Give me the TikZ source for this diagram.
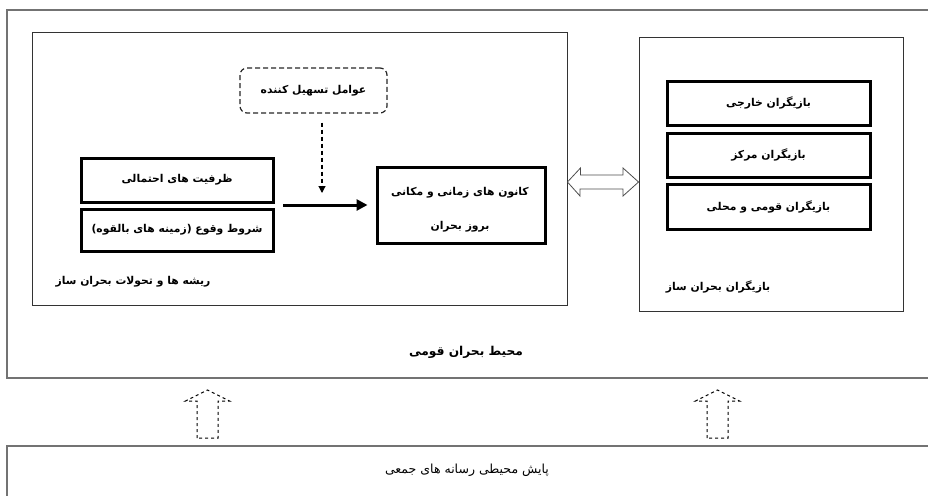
\documentclass[tikz,border=0pt]{standalone}
\usepackage{fontspec}
\newfontfamily\fafont[Script=Arabic]{DejaVu Sans}
\TeXXeTstate=1
\usetikzlibrary{arrows.meta}
\newcommand\fatxt[1]{\beginR #1\endR}
\begin{document}
\begin{tikzpicture}[x=1pt,y=-1pt,
  frame/.style={draw=black!55, line width=1.4pt, inner sep=0pt},
  panel/.style={draw=black!80, line width=0.9pt, inner sep=0pt},
  heavy/.style={draw=black, line width=3pt, inner sep=0pt, align=center,
    font=\fafont\bfseries\fontsize{10.8}{13}\selectfont},
  dashbox/.style={draw=black!85, line width=1.2pt, dash pattern=on 5pt off 3pt,
    rounded corners=7pt, inner sep=0pt, font=\fafont\bfseries\fontsize{10.8}{13}\selectfont},
  lbl/.style={inner sep=0pt, font=\fafont\bfseries\fontsize{10.8}{13}\selectfont},
  biglbl/.style={inner sep=0pt, font=\fafont\bfseries\fontsize{12.2}{14}\selectfont},
  plain/.style={inner sep=0pt, font=\fafont\fontsize{12.5}{15}\selectfont},
  blockarrow/.style={draw=black!70, line width=0.8pt},
  dasharrow/.style={draw=black, line width=1pt, dash pattern=on 3pt off 3pt},
  bigtip/.style={-{Triangle[length=11pt,width=11pt]}, line width=3pt},
  smalltip/.style={-{Triangle[length=7pt,width=7pt]}, line width=1.1pt, dash pattern=on 4pt off 3pt}
]
\useasboundingbox (0,0) rectangle (928,495);
\clip (0,0) rectangle (928,495);

% outer environment frame
\node[frame, minimum width=933pt, minimum height=368pt] (env) at (473.5,194) {};
\node[biglbl] (envlbl) at (466,352) {\fatxt{محیط بحران قومی}};

% roots panel
\node[panel, minimum width=535pt, minimum height=273pt] (roots) at (299.5,168.5) {};
\node[lbl] (rootslbl) at (133,282) {\fatxt{ریشه ها و تحولات بحران ساز}};

\node[dashbox, minimum width=147pt, minimum height=45pt] (facil) at (313.5,90.5) {\fatxt{عوامل تسهیل کننده}};

\node[heavy, minimum width=192pt, minimum height=44pt] (cap) at (177,180) {\fatxt{ظرفیت های احتمالی}};
\node[heavy, minimum width=192pt, minimum height=42pt] (cond) at (177,230) {\fatxt{شروط وقوع (زمینه های بالقوه)}};

\node[heavy, minimum width=168pt, minimum height=76pt] (focus) at (461,205) {};
\node[lbl] (focus1) at (460,193) {\fatxt{کانون های زمانی و مکانی}};
\node[lbl] (focus2) at (460,227) {\fatxt{بروز بحران}};

\coordinate (src) at (283,205);
\draw[bigtip, shorten >=8pt] (src) -- (focus.west);

\coordinate (fb) at (322,193);
\draw[smalltip, shorten <=9pt] (facil.south -| fb) -- (fb);

% actors panel
\node[panel, minimum width=264pt, minimum height=274pt] (actors) at (771,174) {};
\node[heavy, minimum width=203pt, minimum height=44pt] (a1) at (768.5,103) {\fatxt{بازیگران خارجی}};
\node[heavy, minimum width=203pt, minimum height=44pt] (a2) at (768.5,155) {\fatxt{بازیگران مرکز}};
\node[heavy, minimum width=203pt, minimum height=45pt] (a3) at (768.5,206.5) {\fatxt{بازیگران قومی و محلی}};
\node[lbl] (actorslbl) at (718,287) {\fatxt{بازیگران بحران ساز}};

% double block arrow between panels
\draw[blockarrow] (roots.east |- 0,182) -- ++(13,-14) -- ++(0,7) -- (623,175) -- (623,168)
  -- (actors.west |- 0,182) -- (623,196) -- (623,189) -- (580,189) -- (580,196) -- cycle;

% media frame
\node[frame, minimum width=933pt, minimum height=80pt] (media) at (473.5,486) {};
\node[plain] (medialbl) at (467,470) {\fatxt{پایش محیطی رسانه های جمعی}};

% dashed block arrows upward
\foreach \cx/\nm in {207.5/l, 717.5/r}{
  \draw[dasharrow] (\cx-10.5,438) -- (\cx-10.5,401) -- (\cx-22,401) -- (\cx,390)
    -- (\cx+22,401) -- (\cx+10.5,401) -- (\cx+10.5,438) -- cycle;
}
\end{tikzpicture}
\end{document}
